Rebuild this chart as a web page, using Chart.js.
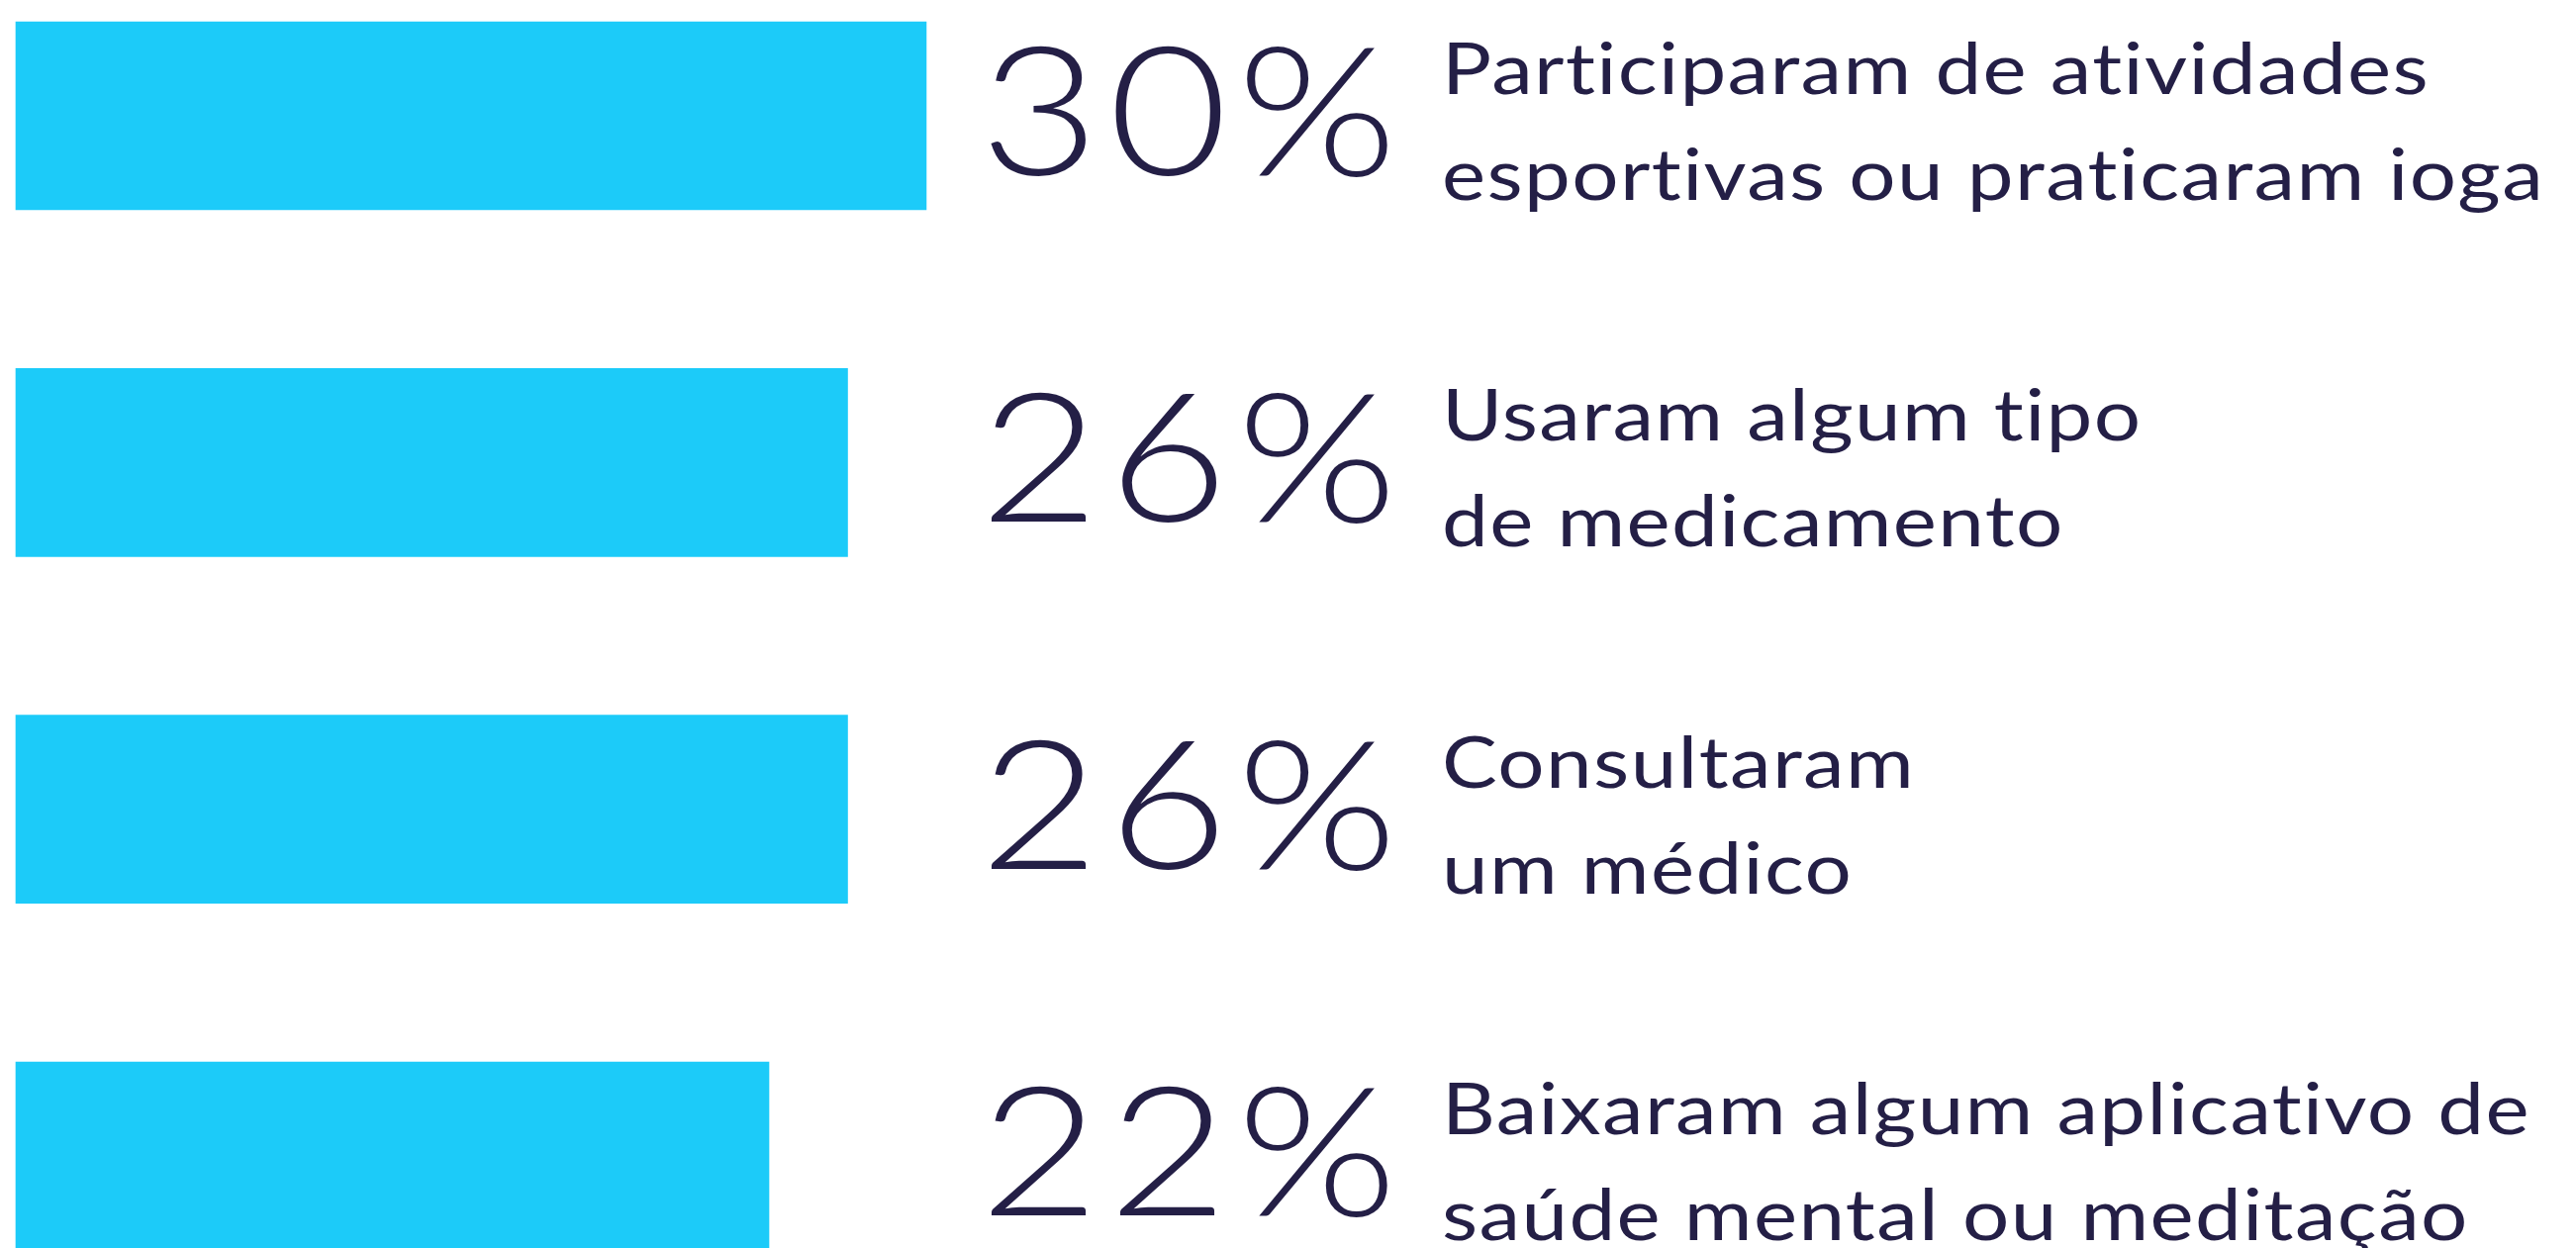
<!DOCTYPE html>
<html lang="pt-BR">
<head>
    <meta charset="UTF-8">
    <title>Cuidados com a saúde</title>
    <script src="https://cdn.jsdelivr.net/npm/chart.js@4.4.1/dist/chart.umd.min.js"></script>
    <style>
        html, body { margin: 0; padding: 0; background: #ffffff; }
        #wrap { width: 2603px; height: 1261px; position: relative; }
    </style>
</head>
<body>
    <div id="wrap"><canvas id="chart"></canvas></div>
    <script>
        // data
        const labels = [
            ['Participaram de atividades', 'esportivas ou praticaram ioga'],
            ['Usaram algum tipo', 'de medicamento'],
            ['Consultaram', 'um médico'],
            ['Baixaram algum aplicativo de', 'saúde mental ou meditação']
        ];
        const values = [30, 26, 26, 22];
        const valueText = ['30%', '26%', '26%', '22%'];

        const barColor = '#1ccbf9';
        const textColor = '#241f46';
        // bars don't start at zero in the original, the axis is cut
        const axisMin = -16.3;
        const axisMax = 113.9;

        const textPlugin = {
            id: 'sideText',
            afterDatasetsDraw(chart) {
                const ctx = chart.ctx;
                const meta = chart.getDatasetMeta(0);
                ctx.save();
                ctx.fillStyle = textColor;
                ctx.textAlign = 'left';
                ctx.textBaseline = 'alphabetic';
                meta.data.forEach((bar, i) => {
                    const y = bar.y;
                    // big percentage
                    ctx.save();
                    ctx.font = '300 181px Lato';
                    ctx.letterSpacing = '8px';
                    ctx.translate(990, y + 60);
                    ctx.scale(1.15, 1);
                    ctx.fillText(valueText[i], 0, 0);
                    ctx.restore();
                    // two line description
                    labels[i].forEach((line, j) => {
                        ctx.save();
                        ctx.font = '400 72px Lato';
                        ctx.letterSpacing = '1.2px';
                        ctx.translate(1457, y - 22 + j * 107);
                        ctx.scale(1.16, 1);
                        ctx.fillText(line, 0, 0);
                        ctx.restore();
                    });
                });
                ctx.restore();
            }
        };

        new Chart(document.getElementById('chart'), {
            type: 'bar',
            data: {
                labels: labels,
                datasets: [{
                    data: values,
                    backgroundColor: barColor,
                    borderWidth: 0,
                    barThickness: 190,
                    base: axisMin,
                    clip: false
                }]
            },
            options: {
                indexAxis: 'y',
                responsive: true,
                maintainAspectRatio: false,
                animation: false,
                layout: { padding: { top: 117, bottom: 93, left: 16, right: 0 } },
                scales: {
                    x: { type: 'linear', min: axisMin, max: axisMax, display: false },
                    y: { type: 'category', offset: false, display: false }
                },
                plugins: {
                    legend: { display: false },
                    tooltip: { enabled: false }
                }
            },
            plugins: [textPlugin]
        });
    </script>
</body>
</html>
